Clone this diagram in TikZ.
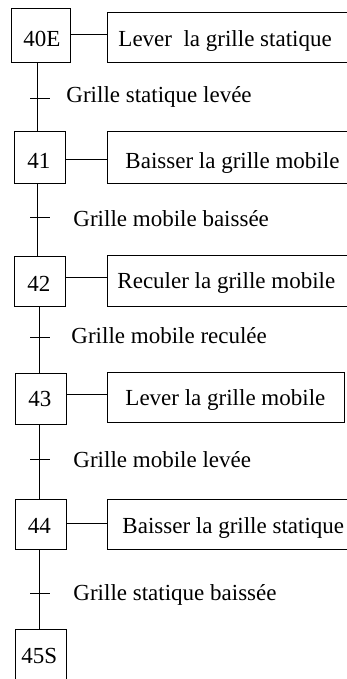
\documentclass[tikz,border=0pt]{standalone}
\usepackage{fontspec}
\setmainfont{Liberation Serif}
\begin{document}
\begin{tikzpicture}[x=1pt,y=-1pt,line width=0.9pt,
  stepbox/.style={draw, rectangle, inner sep=0pt},
  actbox/.style={draw, rectangle, inner sep=0pt},
  txt/.style={anchor=base west, inner sep=0pt, font=\fontsize{23}{27}\selectfont}]
\useasboundingbox (0,0) rectangle (347,679);
\clip (0,0) rectangle (347,679);
% step boxes
\node[stepbox, minimum width=59.7pt, minimum height=54pt] (s40) at (40.85,35) {};
\node[stepbox, minimum width=51pt, minimum height=52pt] (s41) at (39.5,157) {};
\node[stepbox, minimum width=51pt, minimum height=50pt] (s42) at (39.5,281) {};
\node[stepbox, minimum width=51pt, minimum height=51pt] (s43) at (41.2,398.5) {};
\node[stepbox, minimum width=51pt, minimum height=50pt] (s44) at (41.2,524) {};
\node[stepbox, minimum width=51pt, minimum height=71pt] (s45) at (41.2,664.5) {};
% action boxes
\node[actbox, minimum width=245pt, minimum height=50pt] (a40) at (229.5,37) {};
\node[actbox, minimum width=245pt, minimum height=52pt] (a41) at (229.5,157) {};
\node[actbox, minimum width=245pt, minimum height=51pt] (a42) at (229.5,280.5) {};
\node[actbox, minimum width=237pt, minimum height=50pt] (a43) at (225.5,397) {};
\node[actbox, minimum width=245pt, minimum height=50pt] (a44) at (229.5,524) {};
% step texts
\node[txt] (n40) at (23,46.7) {40E};
\node[txt] (n41) at (27,168) {41};
\node[txt] (n42) at (27,291.5) {42};
\node[txt] (n43) at (28,406.5) {43};
\node[txt] (n44) at (27.3,533) {44};
\node[txt] (n45) at (21,663) {45S};
% action texts
\node[txt] (x40) at (118,46.5) {Lever~~la grille statique};
\node[txt] (x41) at (125,168.3) {Baisser la grille mobile};
\node[txt] (x42) at (117,288) {Reculer la grille mobile};
\node[txt] (x43) at (125,405) {Lever la grille mobile};
\node[txt] (x44) at (122,533) {Baisser la grille statique};
% step-action connectors
\coordinate (h40) at (0,34);
\coordinate (h41) at (0,159);
\coordinate (h42) at (0,277);
\coordinate (h43) at (0,394);
\coordinate (h44) at (0,523);
\draw (s40.east |- h40) -- (a40.west |- h40);
\draw (s41.east |- h41) -- (a41.west |- h41);
\draw (s42.east |- h42) -- (a42.west |- h42);
\draw (s43.east |- h43) -- (a43.west |- h43);
\draw (s44.east |- h44) -- (a44.west |- h44);
% vertical links
\coordinate (va) at (37.5,0);
\coordinate (vb) at (39,0);
\draw (s40.south -| va) -- (s41.north -| va);
\draw (s41.south -| va) -- (s42.north -| va);
\draw (s42.south -| vb) -- (s43.north -| vb);
\draw (s43.south -| vb) -- (s44.north -| vb);
\draw (s44.south -| vb) -- (s45.north -| vb);
% transition ticks
\coordinate (t1a) at (30,98);  \coordinate (t1b) at (49.5,98);
\coordinate (t2a) at (30,217); \coordinate (t2b) at (49.5,217);
\coordinate (t3a) at (30,337); \coordinate (t3b) at (50,337);
\coordinate (t4a) at (30,459); \coordinate (t4b) at (50,459);
\coordinate (t5a) at (30,593); \coordinate (t5b) at (50,593);
\draw (t1a) -- (t1b);
\draw (t2a) -- (t2b);
\draw (t3a) -- (t3b);
\draw (t4a) -- (t4b);
\draw (t5a) -- (t5b);
% transition labels
\node[txt] (r1) at (66,102.3) {Grille statique levée};
\node[txt] (r2) at (73,226) {Grille mobile baissée};
\node[txt] (r3) at (71,343) {Grille mobile reculée};
\node[txt] (r4) at (73,467) {Grille mobile levée};
\node[txt] (r5) at (73,600) {Grille statique baissée};
\end{tikzpicture}
\end{document}
